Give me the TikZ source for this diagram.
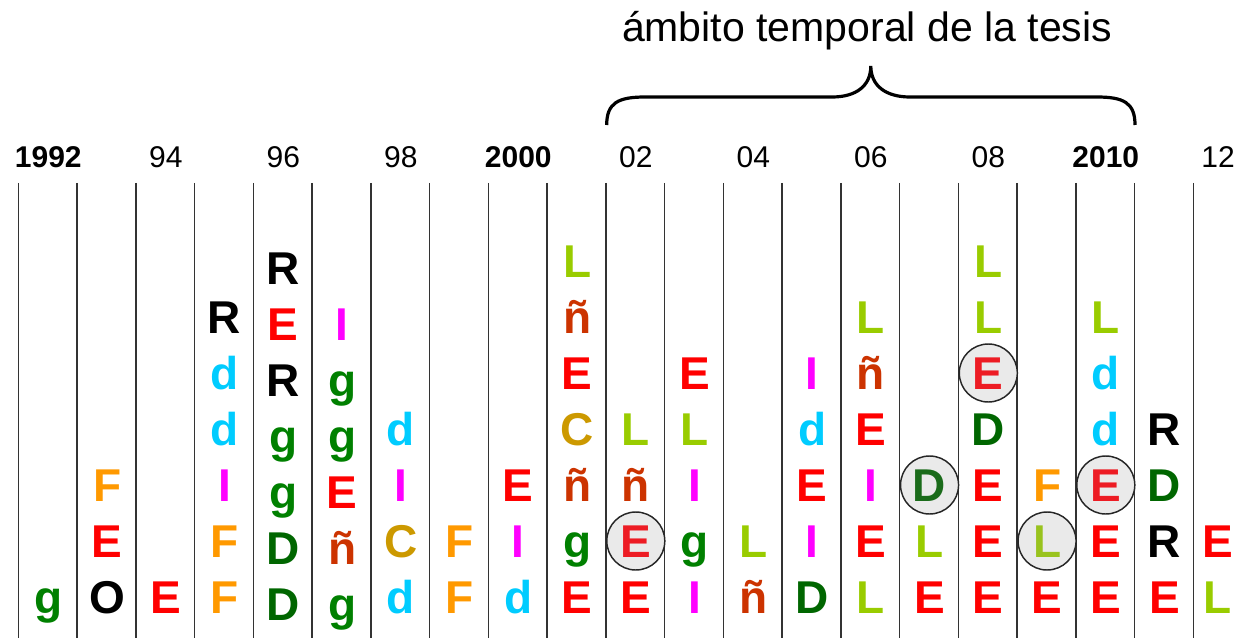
\documentclass[tikz,border=0pt]{standalone}
\usepackage{fontspec}
\setmainfont{Liberation Sans}
\definecolor{cred}{HTML}{FF0000}
\definecolor{corange}{HTML}{FF9900}
\definecolor{cmag}{HTML}{FF00FF}
\definecolor{ccyan}{HTML}{00CCFF}
\definecolor{cdgreen}{HTML}{006600}
\definecolor{cgreen}{HTML}{008000}
\definecolor{clime}{HTML}{99CC00}
\definecolor{cbrown}{HTML}{CC3300}
\definecolor{cgold}{HTML}{CC9900}
\definecolor{cblack}{HTML}{000000}
\definecolor{credc}{HTML}{ED1C24}
\definecolor{cdgreenc}{HTML}{1A6B1A}
\definecolor{climec}{HTML}{99C31E}
\definecolor{cring}{HTML}{EAEAEA}
\definecolor{cline}{HTML}{333333}
\tikzset{
  yearline/.style={draw=cline, line width=1.1pt},
  letter/.style={anchor=base, inner sep=0pt, font=\fontsize{34.5}{36}\selectfont\bfseries},
  ring/.style={circle, draw=black!85, line width=1.1pt, fill=cring, minimum size=43.5pt, inner sep=0pt},
  yearlbl/.style={anchor=base, inner sep=0pt, font=\fontsize{22.5}{24}\selectfont},
  yearbold/.style={yearlbl, font=\fontsize{22.5}{24}\selectfont\bfseries},
  bracelbl/.style={anchor=base, inner sep=0pt, font=\fontsize{30.75}{32}\selectfont},
  brace/.style={draw=black, line width=2.4pt}
}
\begin{document}
\begin{tikzpicture}[x=0.75pt, y=-0.75pt]
\useasboundingbox (0,0) rectangle (1238,638);

% year separators
\foreach \j in {0,...,20}
  \draw[yearline] ({18.3+58.75*\j},183) -- ({18.3+58.75*\j},638);

% year labels
\foreach \k/\t/\s in {0/1992/yearbold, 2/94/yearlbl, 4/96/yearlbl, 6/98/yearlbl,
                      8/2000/yearbold, 10/02/yearlbl, 12/04/yearlbl, 14/06/yearlbl,
                      16/08/yearlbl, 18/2010/yearbold}
  \node[\s] (y\k) at ({48.3+58.75*\k},167) {\t};
\node[yearlbl] (y20) at (1218,167) {12};

% highlighted entries
\node[ring] (ring1) at ({48.3+58.75*10},541) {};
\node[ring] (ring2) at ({48.3+58.75*15},485) {};
\node[ring] (ring3) at ({48.3+58.75*16},373) {};
\node[ring] (ring4) at ({48.3+58.75*17},541) {};
\node[ring] (ring5) at ({48.3+58.75*18},485) {};

% letters, stacked from the bottom of each year column
\foreach \k/\x/\off/\items in {
  0/48.3/0/{g/cgreen},
  1/107.05/0/{O/cblack,E/cred,F/corange},
  2/165.8/0/{E/cred},
  3/224.55/0/{F/corange,F/corange,I/cmag,d/ccyan,d/ccyan,R/cblack},
  4/283.3/7/{D/cdgreen,D/cdgreen,g/cgreen,g/cgreen,R/cblack,E/cred,R/cblack},
  5/342.05/7/{g/cgreen,ñ/cbrown,E/cred,g/cgreen,g/cgreen,I/cmag},
  6/400.8/0/{d/ccyan,C/cgold,I/cmag,d/ccyan},
  7/459.55/0/{F/corange,F/corange},
  8/518.3/0/{d/ccyan,I/cmag,E/cred},
  9/577.05/0/{E/cred,g/cgreen,ñ/cbrown,C/cgold,E/cred,ñ/cbrown,L/clime},
  10/635.8/0/{E/cred,E/credc,ñ/cbrown,L/clime},
  11/694.55/0/{I/cmag,g/cgreen,I/cmag,L/clime,E/cred},
  12/753.3/0/{ñ/cbrown,L/clime},
  13/812.05/0/{D/cdgreen,I/cmag,E/cred,d/ccyan,I/cmag},
  14/870.8/0/{L/clime,E/cred,I/cmag,E/cred,ñ/cbrown,L/clime},
  15/929.55/0/{E/cred,L/clime,D/cdgreenc},
  16/988.3/0/{E/cred,E/cred,E/cred,D/cdgreen,E/credc,L/clime,L/clime},
  17/1047.05/0/{E/cred,L/climec,F/corange},
  18/1105.8/0/{E/cred,E/cred,E/credc,d/ccyan,d/ccyan,L/clime},
  19/1164.55/0/{E/cred,R/cblack,D/cdgreen,R/cblack},
  20/1218/0/{L/clime,E/cred}}
{
  \foreach \ch/\c [count=\r from 0] in \items
    \node[letter, text=\c] (l\k-\r) at (\x,{613-56*\r+\off}) {\ch};
}

% brace over the thesis period
\coordinate (bl) at (606.7,125);
\coordinate (bt) at (870.8,66);
\coordinate (br) at (1135,125);
\draw[brace] (bl) .. controls (606.7,103) and (618,97) .. (645,97)
  -- (832,97) .. controls (856,97) and (870.8,86) .. (bt)
  .. controls (870.8,86) and (886,97) .. (910,97)
  -- (1097,97) .. controls (1124,97) and (1135,103) .. (br);
\node[bracelbl] (title) at (867,42) {ámbito temporal de la tesis};
\end{tikzpicture}
\end{document}
